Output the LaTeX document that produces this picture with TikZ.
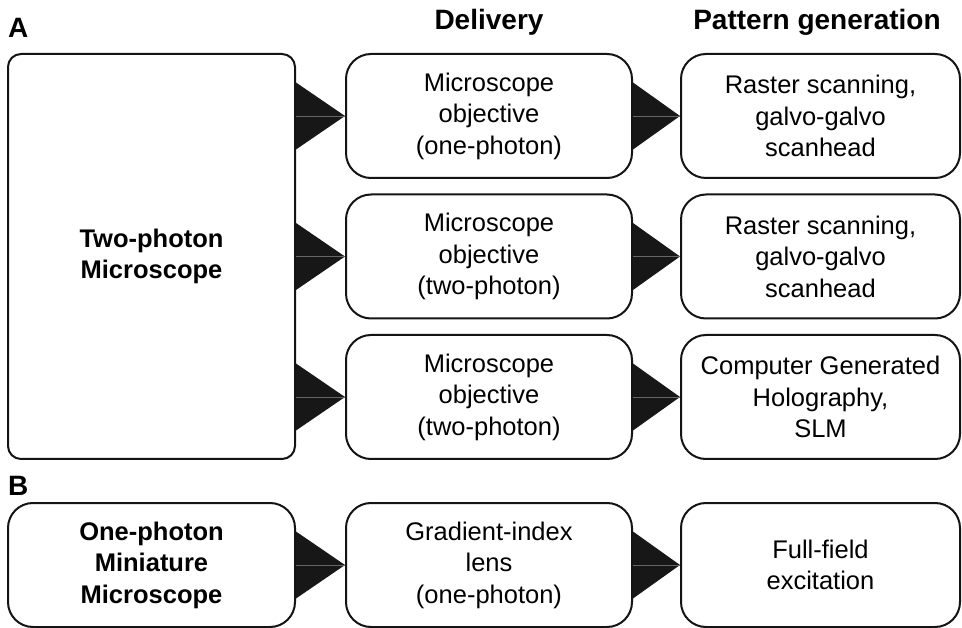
\documentclass[tikz,border=0pt]{standalone}
\usepackage{fontspec}
\setmainfont{Liberation Sans}
\usetikzlibrary{calc}

\tikzset{
  box/.style={draw=black!92, line width=2pt, fill=white, align=center,
    inner sep=0pt, font=\fontsize{25.5}{31.5}\selectfont},
  bigbox/.style={box, rounded corners=13pt, minimum width=287pt, minimum height=405pt},
  cellbox/.style={box, rounded corners=25pt, minimum height=124pt},
  midbox/.style={cellbox, minimum width=286pt},
  endbox/.style={cellbox, minimum width=279pt},
  srcbox/.style={cellbox, minimum width=287pt},
  head/.style={font=\fontsize{28}{33}\selectfont\bfseries, inner sep=0pt},
  panel/.style={font=\fontsize{28}{33}\selectfont\bfseries, inner sep=0pt, anchor=west},
  wedge/.style={fill=black!91},
  midline/.style={draw=black!60, line width=0.8pt}
}

% filled wedge from the side of one box to the middle of the next
\newcommand{\wedgelink}[2]{%
  \fill[wedge] ($(#1.east|-#2.west)+(0,33.5)$) -- (#2.west)
     -- ($(#1.east|-#2.west)+(0,-33.5)$) -- cycle;
  \draw[midline] (#1.east|-#2.west) -- (#2.west);
}

\begin{document}
\begin{tikzpicture}[x=1pt, y=-1pt]
  \useasboundingbox (0,0) rectangle (962,628);

  % headings
  \node[panel] (la) at (8,28) {A};
  \node[head] (hd) at (489,22) {Delivery};
  \node[head] (hp) at (817,22) {Pattern generation};

  % panel A
  \node[bigbox] (tp) at (151.5,256.5) {\textbf{Two-photon}\\\textbf{Microscope}};

  \node[midbox] (d1) at (489,116) {Microscope\\objective\\(one-photon)};
  \node[midbox] (d2) at (489,256.5) {Microscope\\objective\\(two-photon)};
  \node[midbox] (d3) at (489,397) {Microscope\\objective\\(two-photon)};

  \node[endbox] (p1) at (820.5,116) {Raster scanning,\\galvo-galvo\\scanhead};
  \node[endbox] (p2) at (820.5,256.5) {Raster scanning,\\galvo-galvo\\scanhead};
  \node[endbox] (p3) at (820.5,397) {Computer Generated\\Holography,\\SLM};

  \wedgelink{tp}{d1}
  \wedgelink{tp}{d2}
  \wedgelink{tp}{d3}
  \wedgelink{d1}{p1}
  \wedgelink{d2}{p2}
  \wedgelink{d3}{p3}

  % panel B
  \node[panel] (lb) at (8,486) {B};

  \node[srcbox] (mm) at (151.5,565) {\textbf{One-photon}\\\textbf{Miniature}\\\textbf{Microscope}};
  \node[midbox] (gl) at (489,565) {Gradient-index\\lens\\(one-photon)};
  \node[endbox] (ff) at (820.5,565) {Full-field\\excitation};

  \wedgelink{mm}{gl}
  \wedgelink{gl}{ff}
\end{tikzpicture}
\end{document}
